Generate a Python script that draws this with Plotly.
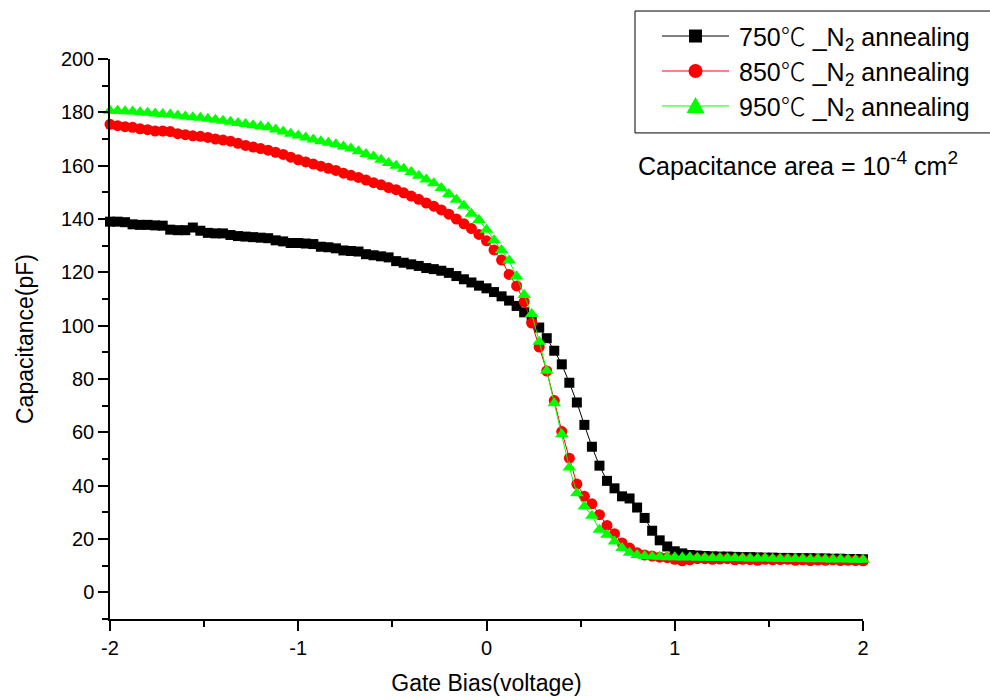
import plotly.graph_objects as go

# ---------------- data ----------------
voltage = [-2.00, -1.96, -1.92, -1.88, -1.84, -1.80, -1.76, -1.72, -1.68, -1.64,
           -1.60, -1.56, -1.52, -1.48, -1.44, -1.40, -1.36, -1.32, -1.28, -1.24,
           -1.20, -1.16, -1.12, -1.08, -1.04, -1.00, -0.96, -0.92, -0.88, -0.84,
           -0.80, -0.76, -0.72, -0.68, -0.64, -0.60, -0.56, -0.52, -0.48, -0.44,
           -0.40, -0.36, -0.32, -0.28, -0.24, -0.20, -0.16, -0.12, -0.08, -0.04,
           0.00, 0.04, 0.08, 0.12, 0.16, 0.20, 0.24, 0.28, 0.32, 0.36,
           0.40, 0.44, 0.48, 0.52, 0.56, 0.60, 0.64, 0.68, 0.72, 0.76,
           0.80, 0.84, 0.88, 0.92, 0.96, 1.00, 1.04, 1.08, 1.12, 1.16,
           1.20, 1.24, 1.28, 1.32, 1.36, 1.40, 1.44, 1.48, 1.52, 1.56,
           1.60, 1.64, 1.68, 1.72, 1.76, 1.80, 1.84, 1.88, 1.92, 1.96, 2.00]

cap_750 = [139.0, 139.0, 138.8, 138.0, 137.8, 137.8, 137.6, 137.5, 136.0, 135.8,
           135.8, 136.8, 135.6, 134.8, 134.6, 134.6, 134.0, 133.6, 133.4, 133.2,
           133.0, 132.8, 132.0, 131.6, 131.0, 131.0, 130.8, 130.6, 129.6, 129.4,
           129.0, 128.2, 128.0, 127.8, 126.8, 126.4, 126.0, 125.6, 124.2, 123.6,
           123.0, 122.4, 121.6, 121.2, 120.6, 119.8, 118.6, 117.4, 116.2, 115.0,
           114.0, 112.6, 111.0, 109.4, 107.4, 105.0, 102.4, 99.3, 95.3, 90.6,
           85.5, 78.6, 71.2, 62.8, 54.6, 47.5, 41.8, 39.0, 36.0, 35.2,
           31.8, 27.9, 23.1, 19.5, 17.2, 15.4, 14.6, 14.0, 13.8, 13.6,
           13.5, 13.4, 13.4, 13.3, 13.2, 13.2, 13.1, 13.0, 13.0, 12.9,
           12.9, 12.8, 12.8, 12.8, 12.7, 12.7, 12.6, 12.6, 12.5, 12.5, 12.4]

cap_850 = [175.5, 175.0, 174.6, 174.4, 173.8, 173.5, 173.0, 173.0, 172.8, 172.0,
           171.6, 171.2, 171.0, 170.6, 170.0, 169.6, 169.2, 168.4, 167.6, 167.0,
           166.4, 165.8, 165.0, 164.2, 163.2, 162.2, 161.4, 160.6, 159.8, 159.0,
           158.2, 157.2, 156.4, 155.6, 154.6, 153.6, 152.8, 151.8, 151.0, 149.8,
           148.6, 147.4, 146.0, 144.8, 143.4, 141.8, 140.0, 138.2, 136.4, 134.2,
           131.8, 128.4, 124.6, 119.2, 114.9, 109.0, 101.0, 92.0, 83.0, 71.9,
           60.3, 50.3, 40.6, 36.0, 33.2, 29.1, 25.1, 22.0, 18.5, 16.6,
           14.8, 14.0, 13.6, 13.2, 13.0, 12.4, 11.8, 12.2, 12.6, 12.6,
           12.4, 12.5, 12.6, 12.2, 12.4, 12.3, 12.0, 12.4, 12.2, 12.3,
           12.4, 12.0, 12.2, 11.9, 12.1, 12.0, 12.2, 11.9, 12.0, 11.9, 11.8]

cap_950 = [180.6, 180.6, 180.4, 180.3, 180.0, 179.8, 179.6, 179.4, 179.2, 178.8,
           178.4, 178.2, 178.0, 177.6, 177.2, 176.8, 176.5, 176.0, 175.6, 175.2,
           174.8, 174.4, 173.6, 172.8, 172.0, 171.3, 170.6, 169.8, 169.2, 168.6,
           168.0, 167.2, 166.4, 165.4, 164.4, 163.4, 162.2, 161.0, 160.0, 158.8,
           157.6, 156.2, 154.8, 153.4, 151.6, 149.4, 147.2, 145.0, 142.0, 139.6,
           136.0, 132.0, 128.3, 124.4, 118.4, 111.5, 104.4, 94.0, 83.1, 70.9,
           59.3, 46.8, 37.2, 32.2, 28.7, 23.5, 21.6, 19.1, 16.6, 14.8,
           14.0, 13.6, 13.4, 13.3, 13.2, 13.2, 13.1, 13.2, 13.0, 13.0,
           12.9, 12.9, 12.8, 12.9, 12.8, 12.7, 12.7, 12.8, 12.6, 12.6,
           12.5, 12.6, 12.5, 12.4, 12.5, 12.4, 12.3, 12.4, 12.3, 12.2, 12.2]

DEG = "<span style=\"font-family:'Noto Sans CJK SC';font-weight:300\">℃</span>"
series_names = ["750" + DEG + " _N<sub>2</sub> annealing",
                "850" + DEG + " _N<sub>2</sub> annealing",
                "950" + DEG + " _N<sub>2</sub> annealing"]
series_colors = ["#000000", "#ff0000", "#00ff00"]
series_symbols = ["square", "circle", "triangle-up"]
series_sizes = [10, 11, 12]
series_values = [cap_750, cap_850, cap_950]

x_ticks = [-2, -1, 0, 1, 2]
x_ticktext = ["-2", "-1", "0", "1", "2"]
y_ticks = [0, 20, 40, 60, 80, 100, 120, 140, 160, 180, 200]

FONT = "Arial, 'Liberation Sans', 'Noto Sans CJK SC', sans-serif"

# ---------------- figure ----------------
fig = go.Figure()
for name, vals, col, sym, sz in zip(series_names, series_values, series_colors,
                                     series_symbols, series_sizes):
    fig.add_trace(go.Scatter(
        x=voltage, y=vals, mode="lines+markers", name=name,
        line=dict(color=col, width=1),
        marker=dict(symbol=sym, size=sz, color=col, line=dict(width=0)),
        showlegend=False, cliponaxis=False))

# plot area in pixels
L, R, T, B = 110, 863, 59, 619.5


def px(xp):
    return (xp - L) / (R - L)


def py(yp):
    return (B - yp) / (B - T)


shapes = []
annotations = []
# legend box (right edge runs off the page as in the reference)
shapes.append(dict(type="rect", xref="paper", yref="paper",
                   x0=px(635), x1=px(1000), y0=py(133), y1=py(11),
                   line=dict(color="black", width=1), fillcolor="rgba(0,0,0,0)"))
rows_y = [36, 71, 106]
for name, col, sym, yy in zip(series_names, series_colors, series_symbols, rows_y):
    shapes.append(dict(type="line", xref="paper", yref="paper",
                       x0=px(662), x1=px(729), y0=py(yy), y1=py(yy),
                       line=dict(color=col, width=1)))
    cx = 695.5
    if sym == "square":
        shapes.append(dict(type="rect", xref="paper", yref="paper",
                           x0=px(cx - 6.5), x1=px(cx + 6.5), y0=py(yy + 6.5), y1=py(yy - 6.5),
                           fillcolor=col, line=dict(width=0)))
    elif sym == "circle":
        shapes.append(dict(type="circle", xref="paper", yref="paper",
                           x0=px(cx - 7), x1=px(cx + 7), y0=py(yy + 7), y1=py(yy - 7),
                           fillcolor=col, line=dict(width=0)))
    else:
        path = "M {} {} L {} {} L {} {} Z".format(
            px(cx - 9), py(yy + 7), px(cx + 9), py(yy + 7), px(cx), py(yy - 9))
        shapes.append(dict(type="path", xref="paper", yref="paper", path=path,
                           fillcolor=col, line=dict(width=0)))
    annotations.append(dict(xref="paper", yref="paper", x=px(737), y=py(yy),
                            xanchor="left", yanchor="middle", showarrow=False,
                            text=name, font=dict(family=FONT, size=25, color="black")))

annotations.append(dict(xref="paper", yref="paper", x=px(636), y=py(164),
                        xanchor="left", yanchor="middle", showarrow=False,
                        text="Capacitance area = 10<sup><span style=\"font-size:19px\">-4</span></sup>"
                             " cm<sup><span style=\"font-size:19px\">2</span></sup>",
                        font=dict(family=FONT, size=25, color="black")))

axis_common = dict(showline=True, linecolor="black", linewidth=1.5,
                   ticks="outside", ticklen=10, tickwidth=1.5, tickcolor="black",
                   showgrid=False, zeroline=False, automargin=False,
                   tickfont=dict(family=FONT, size=20, color="black"))

fig.update_layout(
    width=990, height=700,
    margin=dict(l=L, r=990 - R, t=T, b=700 - B),
    paper_bgcolor="white", plot_bgcolor="white",
    font=dict(family=FONT, color="black"),
    xaxis=dict(range=[-2, 2], tickvals=x_ticks, ticktext=x_ticktext,
               minor=dict(dtick=0.5, tick0=0, ticks="outside", ticklen=6,
                          tickwidth=1.5, tickcolor="black"),
               title=dict(text="Gate Bias(voltage)", standoff=17,
                          font=dict(family=FONT, size=23, color="black")),
               **axis_common),
    yaxis=dict(range=[-10, 200], tickvals=y_ticks,
               minor=dict(dtick=10, tick0=0, ticks="outside", ticklen=6,
                          tickwidth=1.5, tickcolor="black"),
               title=dict(text="Capacitance(pF)", standoff=21,
                          font=dict(family=FONT, size=23, color="black")),
               **axis_common),
    shapes=shapes, annotations=annotations,
)

fig.write_html("out.html")
